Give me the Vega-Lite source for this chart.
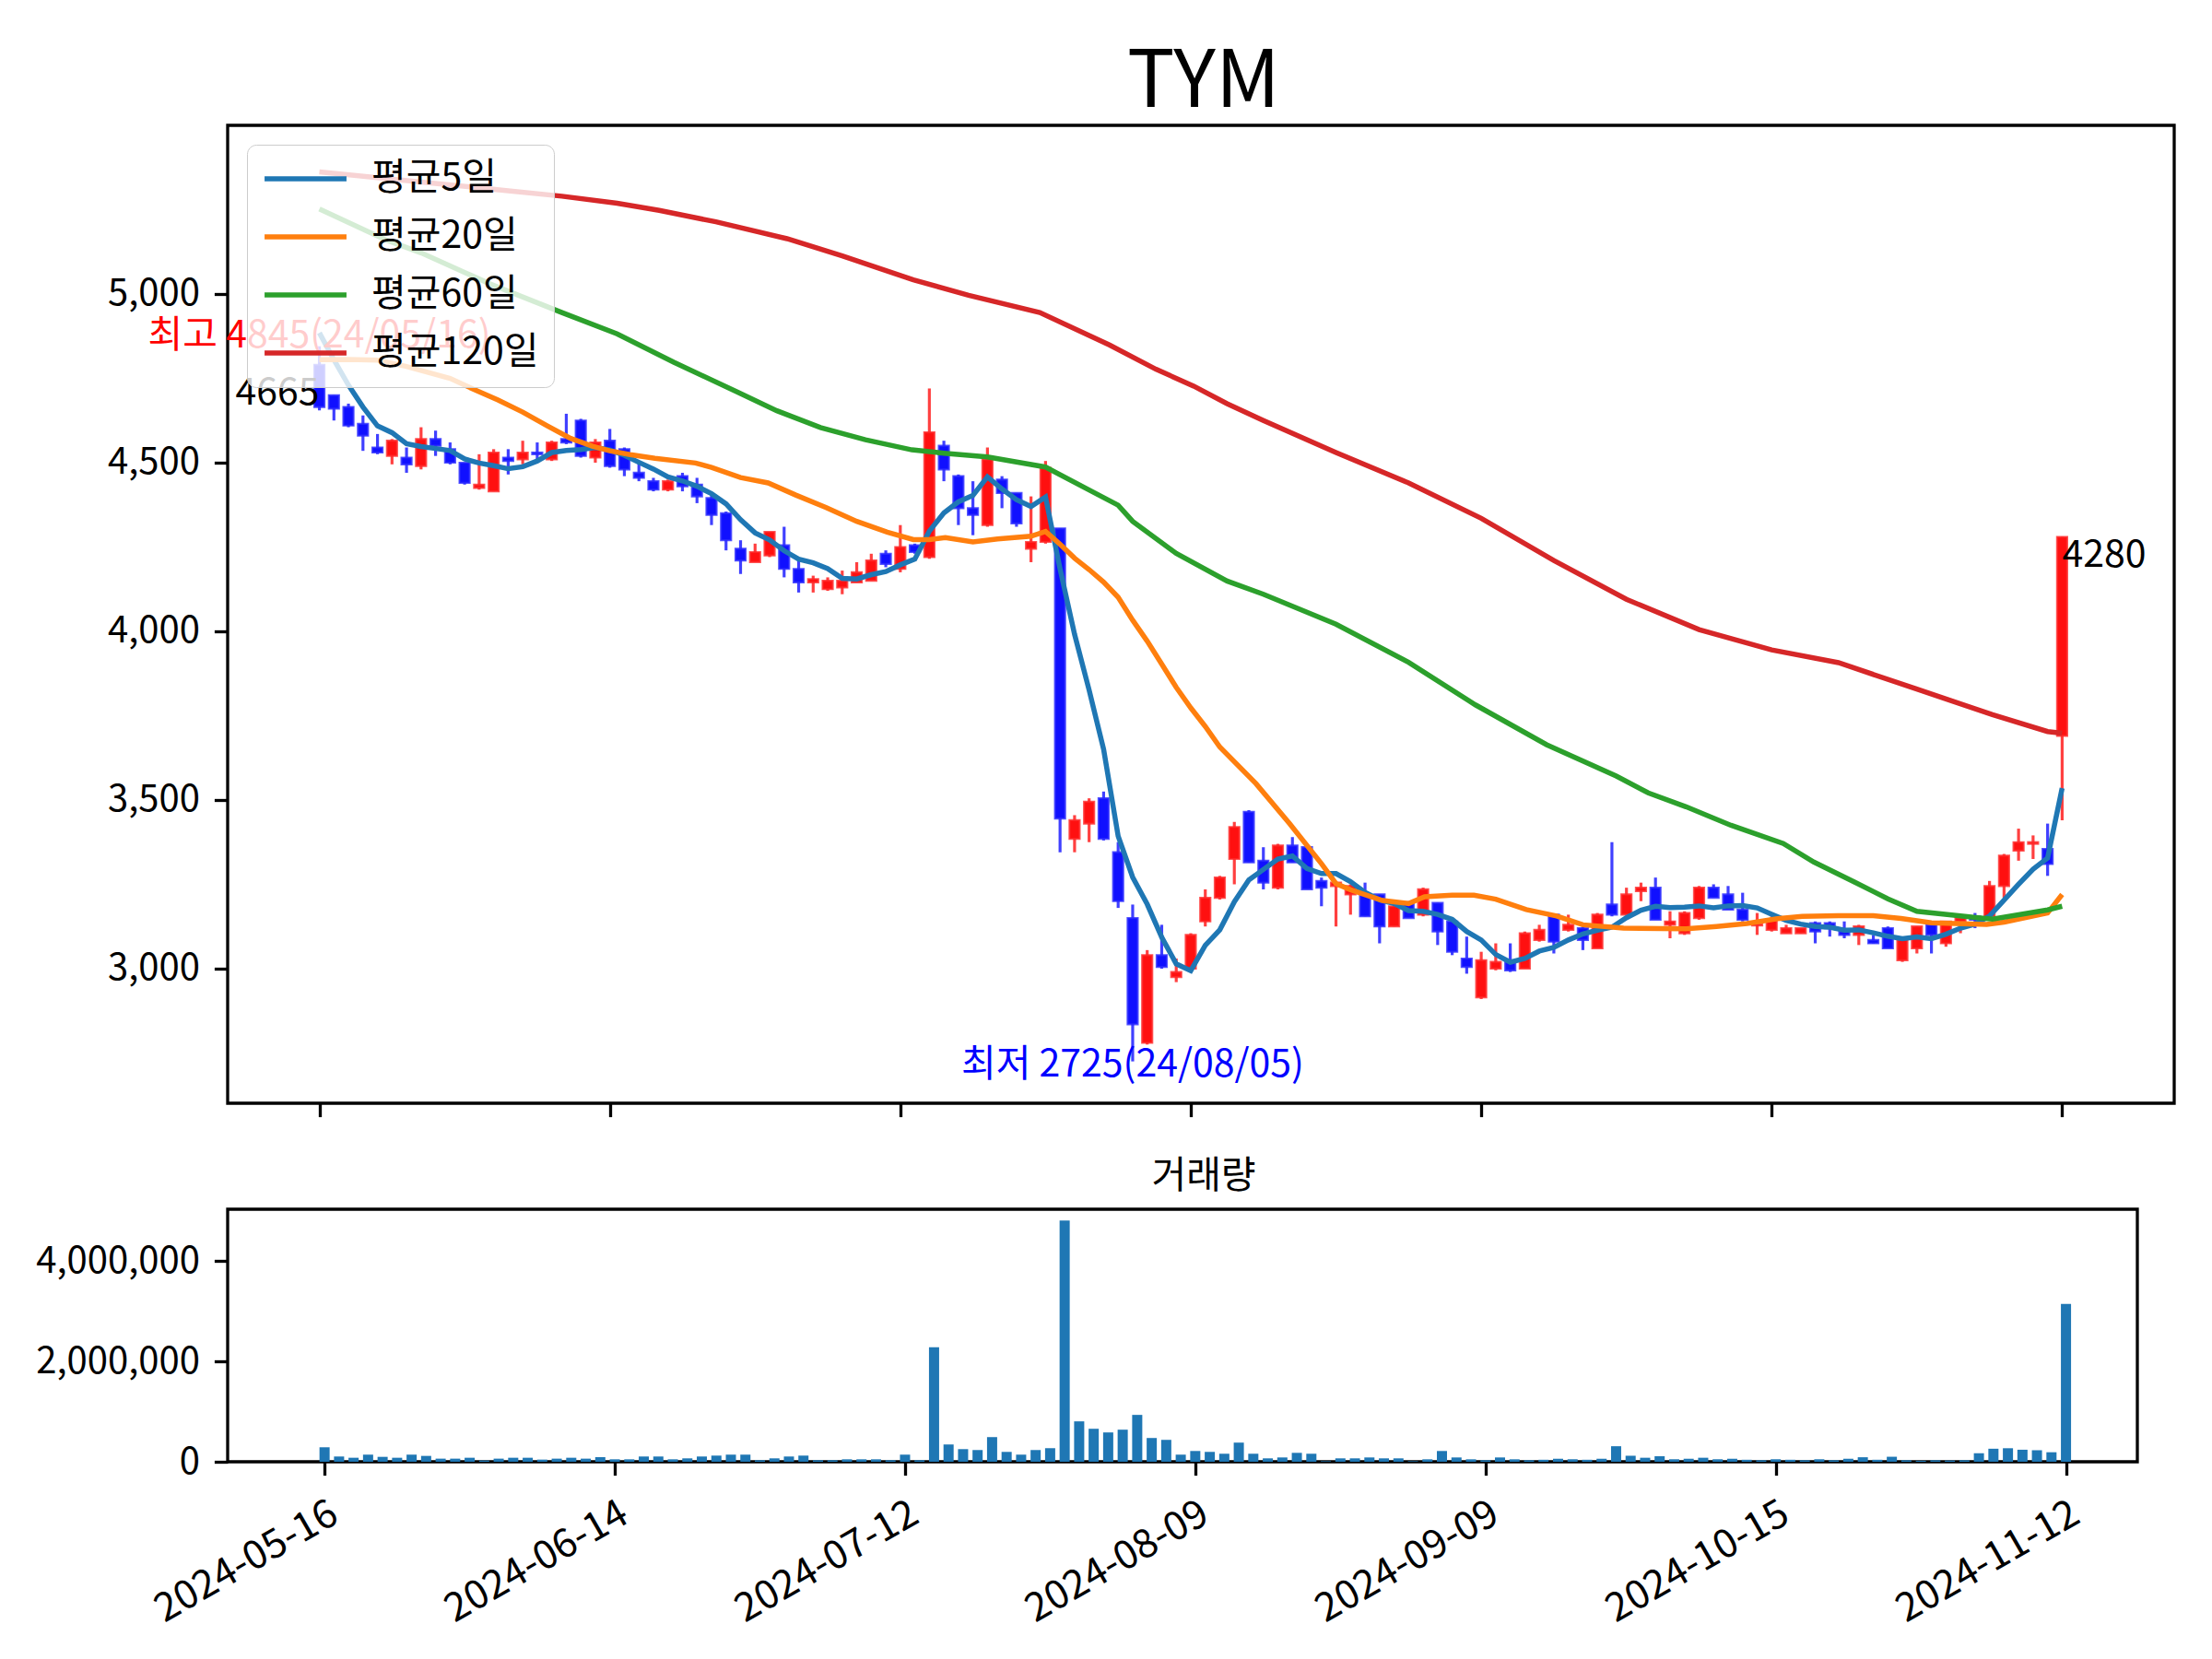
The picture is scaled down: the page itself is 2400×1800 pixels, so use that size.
{
  "$schema": "https://vega.github.io/schema/vega-lite/v6.json",
  "background": "white",
  "padding": {"left": 37, "top": 47, "right": 20, "bottom": 20},
  "title": {"text": "TYM", "fontSize": 86, "fontWeight": "normal", "anchor": "middle", "dx": 107, "offset": 0, "color": "black", "font": "Noto Sans CJK KR"},
  "config": {
    "font": "Noto Sans CJK KR",
    "view": {"stroke": "black", "strokeWidth": 3.3},
    "axis": {"domain": false, "grid": false, "tickColor": "black", "tickWidth": 3.3, "tickSize": 14.6, "labelFontSize": 40, "labelColor": "black", "labelPadding": 16, "labelLimit": 500, "labelFont": "Noto Sans CJK KR"}
  },
  "datasets": {
    "candles": [
      {"i":0,"o":4790,"h":4845,"l":4655,"c":4665,"vol":289000},
      {"i":1,"o":4700,"h":4700,"l":4625,"c":4660,"vol":105000},
      {"i":2,"o":4665,"h":4675,"l":4605,"c":4610,"vol":80000},
      {"i":3,"o":4615,"h":4640,"l":4535,"c":4580,"vol":142000},
      {"i":4,"o":4545,"h":4585,"l":4525,"c":4530,"vol":98000},
      {"i":5,"o":4520,"h":4570,"l":4495,"c":4565,"vol":80000},
      {"i":6,"o":4515,"h":4545,"l":4470,"c":4495,"vol":142000},
      {"i":7,"o":4490,"h":4605,"l":4480,"c":4570,"vol":117000},
      {"i":8,"o":4570,"h":4595,"l":4520,"c":4550,"vol":62000},
      {"i":9,"o":4540,"h":4560,"l":4495,"c":4500,"vol":62000},
      {"i":10,"o":4500,"h":4500,"l":4435,"c":4440,"vol":80000},
      {"i":11,"o":4425,"h":4525,"l":4420,"c":4435,"vol":25000},
      {"i":12,"o":4415,"h":4540,"l":4415,"c":4530,"vol":62000},
      {"i":13,"o":4515,"h":4540,"l":4465,"c":4505,"vol":80000},
      {"i":14,"o":4510,"h":4565,"l":4495,"c":4530,"vol":80000},
      {"i":15,"o":4530,"h":4560,"l":4510,"c":4525,"vol":43000},
      {"i":16,"o":4510,"h":4565,"l":4505,"c":4560,"vol":62000},
      {"i":17,"o":4570,"h":4645,"l":4555,"c":4560,"vol":80000},
      {"i":18,"o":4625,"h":4630,"l":4515,"c":4520,"vol":62000},
      {"i":19,"o":4515,"h":4570,"l":4500,"c":4560,"vol":92000},
      {"i":20,"o":4565,"h":4600,"l":4485,"c":4490,"vol":49000},
      {"i":21,"o":4540,"h":4545,"l":4460,"c":4480,"vol":49000},
      {"i":22,"o":4470,"h":4505,"l":4445,"c":4455,"vol":105000},
      {"i":23,"o":4445,"h":4455,"l":4415,"c":4420,"vol":105000},
      {"i":24,"o":4420,"h":4450,"l":4415,"c":4445,"vol":49000},
      {"i":25,"o":4460,"h":4470,"l":4415,"c":4430,"vol":68000},
      {"i":26,"o":4435,"h":4455,"l":4380,"c":4400,"vol":105000},
      {"i":27,"o":4395,"h":4405,"l":4315,"c":4345,"vol":123000},
      {"i":28,"o":4350,"h":4355,"l":4240,"c":4270,"vol":142000},
      {"i":29,"o":4245,"h":4270,"l":4170,"c":4210,"vol":142000},
      {"i":30,"o":4205,"h":4260,"l":4205,"c":4235,"vol":31000},
      {"i":31,"o":4225,"h":4295,"l":4220,"c":4295,"vol":68000},
      {"i":32,"o":4255,"h":4310,"l":4160,"c":4185,"vol":105000},
      {"i":33,"o":4185,"h":4210,"l":4115,"c":4145,"vol":123000},
      {"i":34,"o":4145,"h":4165,"l":4115,"c":4155,"vol":31000},
      {"i":35,"o":4125,"h":4160,"l":4120,"c":4150,"vol":31000},
      {"i":36,"o":4130,"h":4180,"l":4110,"c":4150,"vol":49000},
      {"i":37,"o":4145,"h":4205,"l":4145,"c":4175,"vol":49000},
      {"i":38,"o":4150,"h":4230,"l":4150,"c":4210,"vol":49000},
      {"i":39,"o":4230,"h":4240,"l":4190,"c":4200,"vol":31000},
      {"i":40,"o":4185,"h":4315,"l":4175,"c":4250,"vol":142000},
      {"i":41,"o":4255,"h":4260,"l":4230,"c":4235,"vol":31000},
      {"i":42,"o":4220,"h":4720,"l":4215,"c":4590,"vol":2283000},
      {"i":43,"o":4550,"h":4565,"l":4445,"c":4480,"vol":345000},
      {"i":44,"o":4460,"h":4465,"l":4315,"c":4365,"vol":252000},
      {"i":45,"o":4365,"h":4445,"l":4285,"c":4345,"vol":234000},
      {"i":46,"o":4315,"h":4545,"l":4310,"c":4510,"vol":492000},
      {"i":47,"o":4450,"h":4460,"l":4365,"c":4410,"vol":197000},
      {"i":48,"o":4410,"h":4410,"l":4310,"c":4320,"vol":142000},
      {"i":49,"o":4245,"h":4400,"l":4205,"c":4265,"vol":234000},
      {"i":50,"o":4265,"h":4505,"l":4260,"c":4485,"vol":271000},
      {"i":51,"o":4305,"h":4305,"l":3345,"c":3445,"vol":4810000},
      {"i":52,"o":3385,"h":3455,"l":3345,"c":3440,"vol":806000},
      {"i":53,"o":3430,"h":3505,"l":3375,"c":3495,"vol":658000},
      {"i":54,"o":3505,"h":3525,"l":3380,"c":3385,"vol":585000},
      {"i":55,"o":3345,"h":3375,"l":3180,"c":3200,"vol":640000},
      {"i":56,"o":3150,"h":3190,"l":2725,"c":2835,"vol":935000},
      {"i":57,"o":2780,"h":3055,"l":2775,"c":3040,"vol":474000},
      {"i":58,"o":3040,"h":3130,"l":3000,"c":3005,"vol":437000},
      {"i":59,"o":2975,"h":3030,"l":2960,"c":2990,"vol":142000},
      {"i":60,"o":3000,"h":3105,"l":2995,"c":3100,"vol":215000},
      {"i":61,"o":3140,"h":3235,"l":3125,"c":3210,"vol":197000},
      {"i":62,"o":3210,"h":3275,"l":3205,"c":3270,"vol":160000},
      {"i":63,"o":3325,"h":3435,"l":3250,"c":3420,"vol":382000},
      {"i":64,"o":3465,"h":3470,"l":3315,"c":3315,"vol":160000},
      {"i":65,"o":3320,"h":3360,"l":3235,"c":3255,"vol":68000},
      {"i":66,"o":3240,"h":3370,"l":3235,"c":3365,"vol":86000},
      {"i":67,"o":3365,"h":3390,"l":3315,"c":3315,"vol":178000},
      {"i":68,"o":3360,"h":3365,"l":3235,"c":3235,"vol":160000},
      {"i":69,"o":3260,"h":3270,"l":3185,"c":3240,"vol":12000},
      {"i":70,"o":3245,"h":3255,"l":3125,"c":3255,"vol":68000},
      {"i":71,"o":3220,"h":3250,"l":3160,"c":3245,"vol":68000},
      {"i":72,"o":3220,"h":3255,"l":3155,"c":3155,"vol":86000},
      {"i":73,"o":3220,"h":3220,"l":3075,"c":3125,"vol":68000},
      {"i":74,"o":3125,"h":3190,"l":3125,"c":3185,"vol":68000},
      {"i":75,"o":3195,"h":3200,"l":3150,"c":3150,"vol":12000},
      {"i":76,"o":3160,"h":3240,"l":3155,"c":3235,"vol":49000},
      {"i":77,"o":3195,"h":3195,"l":3070,"c":3110,"vol":215000},
      {"i":78,"o":3140,"h":3140,"l":3040,"c":3050,"vol":86000},
      {"i":79,"o":3030,"h":3095,"l":2985,"c":3005,"vol":49000},
      {"i":80,"o":2915,"h":3050,"l":2910,"c":3025,"vol":31000},
      {"i":81,"o":3000,"h":3075,"l":2995,"c":3020,"vol":86000},
      {"i":82,"o":3020,"h":3075,"l":2990,"c":2995,"vol":49000},
      {"i":83,"o":3000,"h":3110,"l":3000,"c":3105,"vol":31000},
      {"i":84,"o":3085,"h":3130,"l":3080,"c":3115,"vol":40000},
      {"i":85,"o":3160,"h":3160,"l":3045,"c":3080,"vol":60000},
      {"i":86,"o":3115,"h":3160,"l":3110,"c":3130,"vol":50000},
      {"i":87,"o":3120,"h":3125,"l":3055,"c":3085,"vol":40000},
      {"i":88,"o":3060,"h":3165,"l":3060,"c":3160,"vol":60000},
      {"i":89,"o":3190,"h":3375,"l":3155,"c":3160,"vol":310000},
      {"i":90,"o":3160,"h":3240,"l":3160,"c":3220,"vol":120000},
      {"i":91,"o":3230,"h":3255,"l":3200,"c":3240,"vol":80000},
      {"i":92,"o":3240,"h":3270,"l":3145,"c":3145,"vol":110000},
      {"i":93,"o":3130,"h":3170,"l":3090,"c":3140,"vol":50000},
      {"i":94,"o":3105,"h":3170,"l":3100,"c":3165,"vol":60000},
      {"i":95,"o":3150,"h":3245,"l":3145,"c":3240,"vol":80000},
      {"i":96,"o":3240,"h":3250,"l":3210,"c":3210,"vol":50000},
      {"i":97,"o":3220,"h":3245,"l":3175,"c":3175,"vol":60000},
      {"i":98,"o":3175,"h":3225,"l":3140,"c":3145,"vol":40000},
      {"i":99,"o":3128,"h":3165,"l":3100,"c":3132,"vol":30000},
      {"i":100,"o":3115,"h":3155,"l":3110,"c":3145,"vol":50000},
      {"i":101,"o":3105,"h":3130,"l":3105,"c":3120,"vol":40000},
      {"i":102,"o":3105,"h":3120,"l":3105,"c":3120,"vol":30000},
      {"i":103,"o":3135,"h":3140,"l":3075,"c":3110,"vol":50000},
      {"i":104,"o":3135,"h":3140,"l":3095,"c":3120,"vol":30000},
      {"i":105,"o":3110,"h":3140,"l":3090,"c":3100,"vol":60000},
      {"i":106,"o":3100,"h":3130,"l":3070,"c":3125,"vol":90000},
      {"i":107,"o":3085,"h":3100,"l":3075,"c":3075,"vol":40000},
      {"i":108,"o":3120,"h":3125,"l":3060,"c":3060,"vol":100000},
      {"i":109,"o":3025,"h":3085,"l":3020,"c":3085,"vol":30000},
      {"i":110,"o":3060,"h":3125,"l":3045,"c":3125,"vol":20000},
      {"i":111,"o":3130,"h":3140,"l":3045,"c":3100,"vol":30000},
      {"i":112,"o":3075,"h":3140,"l":3065,"c":3140,"vol":25000},
      {"i":113,"o":3140,"h":3150,"l":3105,"c":3150,"vol":30000},
      {"i":114,"o":3155,"h":3165,"l":3120,"c":3145,"vol":170000},
      {"i":115,"o":3155,"h":3260,"l":3150,"c":3245,"vol":260000},
      {"i":116,"o":3245,"h":3340,"l":3210,"c":3335,"vol":270000},
      {"i":117,"o":3350,"h":3415,"l":3320,"c":3375,"vol":240000},
      {"i":118,"o":3370,"h":3395,"l":3325,"c":3375,"vol":230000},
      {"i":119,"o":3355,"h":3430,"l":3275,"c":3310,"vol":190000},
      {"i":120,"o":3690,"h":4280,"l":3440,"c":4280,"vol":3150000}
    ],
    "ma": [
      {"s":"평균5일","i":0,"v":4885},{"s":"평균5일","i":1,"v":4805},{"s":"평균5일","i":2,"v":4730},{"s":"평균5일","i":3,"v":4665},{"s":"평균5일","i":4,"v":4609},
      {"s":"평균5일","i":5,"v":4589},{"s":"평균5일","i":6,"v":4556},{"s":"평균5일","i":7,"v":4548},{"s":"평균5일","i":8,"v":4542},{"s":"평균5일","i":9,"v":4536},
      {"s":"평균5일","i":10,"v":4511},{"s":"평균5일","i":11,"v":4499},{"s":"평균5일","i":12,"v":4491},{"s":"평균5일","i":13,"v":4482},{"s":"평균5일","i":14,"v":4488},
      {"s":"평균5일","i":15,"v":4505},{"s":"평균5일","i":16,"v":4530},{"s":"평균5일","i":17,"v":4536},{"s":"평균5일","i":18,"v":4539},{"s":"평균5일","i":19,"v":4545},
      {"s":"평균5일","i":20,"v":4538},{"s":"평균5일","i":21,"v":4522},{"s":"평균5일","i":22,"v":4501},{"s":"평균5일","i":23,"v":4481},{"s":"평균5일","i":24,"v":4458},
      {"s":"평균5일","i":25,"v":4446},{"s":"평균5일","i":26,"v":4430},{"s":"평균5일","i":27,"v":4408},{"s":"평균5일","i":28,"v":4378},{"s":"평균5일","i":29,"v":4331},
      {"s":"평균5일","i":30,"v":4292},{"s":"평균5일","i":31,"v":4271},{"s":"평균5일","i":32,"v":4239},{"s":"평균5일","i":33,"v":4214},{"s":"평균5일","i":34,"v":4203},
      {"s":"평균5일","i":35,"v":4186},{"s":"평균5일","i":36,"v":4157},{"s":"평균5일","i":37,"v":4155},{"s":"평균5일","i":38,"v":4168},{"s":"평균5일","i":39,"v":4177},
      {"s":"평균5일","i":40,"v":4197},{"s":"평균5일","i":41,"v":4214},{"s":"평균5일","i":42,"v":4297},{"s":"평균5일","i":43,"v":4351},{"s":"평균5일","i":44,"v":4384},
      {"s":"평균5일","i":45,"v":4403},{"s":"평균5일","i":46,"v":4458},{"s":"평균5일","i":47,"v":4422},{"s":"평균5일","i":48,"v":4390},{"s":"평균5일","i":49,"v":4370},
      {"s":"평균5일","i":50,"v":4398},{"s":"평균5일","i":51,"v":4185},{"s":"평균5일","i":52,"v":3991},{"s":"평균5일","i":53,"v":3826},{"s":"평균5일","i":54,"v":3650},
      {"s":"평균5일","i":55,"v":3393},{"s":"평균5일","i":56,"v":3271},{"s":"평균5일","i":57,"v":3191},{"s":"평균5일","i":58,"v":3093},{"s":"평균5일","i":59,"v":3014},
      {"s":"평균5일","i":60,"v":2994},{"s":"평균5일","i":61,"v":3069},{"s":"평균5일","i":62,"v":3115},{"s":"평균5일","i":63,"v":3198},{"s":"평균5일","i":64,"v":3263},
      {"s":"평균5일","i":65,"v":3294},{"s":"평균5일","i":66,"v":3325},{"s":"평균5일","i":67,"v":3334},{"s":"평균5일","i":68,"v":3297},{"s":"평균5일","i":69,"v":3282},
      {"s":"평균5일","i":70,"v":3282},{"s":"평균5일","i":71,"v":3258},{"s":"평균5일","i":72,"v":3226},{"s":"평균5일","i":73,"v":3204},{"s":"평균5일","i":74,"v":3193},
      {"s":"평균5일","i":75,"v":3172},{"s":"평균5일","i":76,"v":3170},{"s":"평균5일","i":77,"v":3161},{"s":"평균5일","i":78,"v":3146},{"s":"평균5일","i":79,"v":3110},
      {"s":"평균5일","i":80,"v":3085},{"s":"평균5일","i":81,"v":3042},{"s":"평균5일","i":82,"v":3019},{"s":"평균5일","i":83,"v":3030},{"s":"평균5일","i":84,"v":3052},
      {"s":"평균5일","i":85,"v":3063},{"s":"평균5일","i":86,"v":3085},{"s":"평균5일","i":87,"v":3103},{"s":"평균5일","i":88,"v":3114},{"s":"평균5일","i":89,"v":3123},
      {"s":"평균5일","i":90,"v":3151},{"s":"평균5일","i":91,"v":3173},{"s":"평균5일","i":92,"v":3185},{"s":"평균5일","i":93,"v":3181},{"s":"평균5일","i":94,"v":3182},
      {"s":"평균5일","i":95,"v":3186},{"s":"평균5일","i":96,"v":3180},{"s":"평균5일","i":97,"v":3186},{"s":"평균5일","i":98,"v":3187},{"s":"평균5일","i":99,"v":3180},
      {"s":"평균5일","i":100,"v":3161},{"s":"평균5일","i":101,"v":3143},{"s":"평균5일","i":102,"v":3132},{"s":"평균5일","i":103,"v":3125},{"s":"평균5일","i":104,"v":3123},
      {"s":"평균5일","i":105,"v":3114},{"s":"평균5일","i":106,"v":3115},{"s":"평균5일","i":107,"v":3106},{"s":"평균5일","i":108,"v":3096},{"s":"평균5일","i":109,"v":3089},
      {"s":"평균5일","i":110,"v":3094},{"s":"평균5일","i":111,"v":3089},{"s":"평균5일","i":112,"v":3102},{"s":"평균5일","i":113,"v":3120},{"s":"평균5일","i":114,"v":3132},
      {"s":"평균5일","i":115,"v":3156},{"s":"평균5일","i":116,"v":3203},{"s":"평균5일","i":117,"v":3250},{"s":"평균5일","i":118,"v":3295},{"s":"평균5일","i":119,"v":3328},
      {"s":"평균5일","i":120,"v":3535},
      {"s":"평균20일","i":0,"v":4805},{"s":"평균20일","i":2,"v":4806},{"s":"평균20일","i":4,"v":4804},{"s":"평균20일","i":6,"v":4785},{"s":"평균20일","i":9,"v":4750},
      {"s":"평균20일","i":10.6,"v":4718},{"s":"평균20일","i":12.3,"v":4686},{"s":"평균20일","i":14,"v":4650},{"s":"평균20일","i":15.7,"v":4609},{"s":"평균20일","i":17.3,"v":4572},
      {"s":"평균20일","i":18.8,"v":4549},{"s":"평균20일","i":20,"v":4535},{"s":"평균20일","i":21.4,"v":4524},{"s":"평균20일","i":23.1,"v":4513},{"s":"평균20일","i":25.9,"v":4499},
      {"s":"평균20일","i":27,"v":4486},{"s":"평균20일","i":29,"v":4456},{"s":"평균20일","i":30.9,"v":4440},{"s":"평균20일","i":32.8,"v":4404},{"s":"평균20일","i":34.9,"v":4367},
      {"s":"평균20일","i":37,"v":4326},{"s":"평균20일","i":39.1,"v":4294},{"s":"평균20일","i":40.9,"v":4272},{"s":"평균20일","i":42,"v":4272},{"s":"평균20일","i":43.1,"v":4278},
      {"s":"평균20일","i":45,"v":4265},{"s":"평균20일","i":46.7,"v":4274},{"s":"평균20일","i":49,"v":4282},{"s":"평균20일","i":50,"v":4296},{"s":"평균20일","i":51,"v":4258},
      {"s":"평균20일","i":52,"v":4217},{"s":"평균20일","i":53,"v":4183},{"s":"평균20일","i":54,"v":4146},{"s":"평균20일","i":55,"v":4101},{"s":"평균20일","i":56,"v":4033},
      {"s":"평균20일","i":57,"v":3971},{"s":"평균20일","i":58,"v":3903},{"s":"평균20일","i":59,"v":3834},{"s":"평균20일","i":60,"v":3773},{"s":"평균20일","i":61,"v":3718},
      {"s":"평균20일","i":62,"v":3657},{"s":"평균20일","i":64.5,"v":3548},{"s":"평균20일","i":66.8,"v":3430},{"s":"평균20일","i":69,"v":3311},{"s":"평균20일","i":70,"v":3252},
      {"s":"평균20일","i":71,"v":3234},{"s":"평균20일","i":73.2,"v":3202},{"s":"평균20일","i":75,"v":3193},{"s":"평균20일","i":76.1,"v":3213},{"s":"평균20일","i":78,"v":3218},
      {"s":"평균20일","i":79.5,"v":3218},{"s":"평균20일","i":81,"v":3206},{"s":"평균20일","i":83.1,"v":3175},{"s":"평균20일","i":85.2,"v":3156},{"s":"평균20일","i":87,"v":3130},
      {"s":"평균20일","i":89.8,"v":3120},{"s":"평균20일","i":94.1,"v":3118},{"s":"평균20일","i":96.2,"v":3125},{"s":"평균20일","i":98.3,"v":3134},{"s":"평균20일","i":100.4,"v":3148},
      {"s":"평균20일","i":102.1,"v":3155},{"s":"평균20일","i":104.6,"v":3157},{"s":"평균20일","i":107,"v":3157},{"s":"평균20일","i":108.9,"v":3149},{"s":"평균20일","i":111,"v":3136},
      {"s":"평균20일","i":114.8,"v":3131},{"s":"평균20일","i":116,"v":3138},{"s":"평균20일","i":119,"v":3165},{"s":"평균20일","i":120,"v":3220},
      {"s":"평균60일","i":0,"v":5252},{"s":"평균60일","i":4.6,"v":5160},{"s":"평균60일","i":7,"v":5122},{"s":"평균60일","i":11.8,"v":5029},{"s":"평균60일","i":16.7,"v":4945},
      {"s":"평균60일","i":20.5,"v":4882},{"s":"평균60일","i":24.4,"v":4798},{"s":"평균60일","i":28.8,"v":4709},{"s":"평균60일","i":31.5,"v":4654},{"s":"평균60일","i":34.5,"v":4604},
      {"s":"평균60일","i":37.6,"v":4568},{"s":"평균60일","i":40.8,"v":4538},{"s":"평균60일","i":43,"v":4528},{"s":"평균60일","i":46,"v":4517},{"s":"평균60일","i":50,"v":4487},
      {"s":"평균60일","i":53,"v":4419},{"s":"평균60일","i":55,"v":4374},{"s":"평균60일","i":56,"v":4326},{"s":"평균60일","i":59,"v":4231},{"s":"평균60일","i":62.5,"v":4149},
      {"s":"평균60일","i":65,"v":4110},{"s":"평균60일","i":70,"v":4021},{"s":"평균60일","i":75,"v":3908},{"s":"평균60일","i":79.6,"v":3782},{"s":"평균60일","i":84.5,"v":3664},
      {"s":"평균60일","i":89.3,"v":3571},{"s":"평균60일","i":91.5,"v":3521},{"s":"평균60일","i":94.1,"v":3480},{"s":"평균60일","i":97.2,"v":3425},{"s":"평균60일","i":100.8,"v":3371},
      {"s":"평균60일","i":102.9,"v":3316},{"s":"평균60일","i":105.7,"v":3257},{"s":"평균60일","i":108,"v":3207},{"s":"평균60일","i":110,"v":3170},{"s":"평균60일","i":113.9,"v":3152},
      {"s":"평균60일","i":115.2,"v":3147},{"s":"평균60일","i":119,"v":3174},{"s":"평균60일","i":120,"v":3185},
      {"s":"평균120일","i":0,"v":5362},{"s":"평균120일","i":7,"v":5332},{"s":"평균120일","i":16.7,"v":5290},{"s":"평균120일","i":20.5,"v":5269},{"s":"평균120일","i":23.4,"v":5248},
      {"s":"평균120일","i":27.3,"v":5214},{"s":"평균120일","i":32.2,"v":5164},{"s":"평균120일","i":36,"v":5113},{"s":"평균120일","i":40.9,"v":5042},{"s":"평균120일","i":44.7,"v":4996},
      {"s":"평균120일","i":49.6,"v":4945},{"s":"평균120일","i":54.4,"v":4849},{"s":"평균120일","i":57.6,"v":4777},{"s":"평균120일","i":60.2,"v":4727},{"s":"평균120일","i":62.5,"v":4675},
      {"s":"평균120일","i":65,"v":4625},{"s":"평균120일","i":70,"v":4530},{"s":"평균120일","i":75,"v":4440},{"s":"평균120일","i":80,"v":4335},{"s":"평균120일","i":85,"v":4210},
      {"s":"평균120일","i":90,"v":4095},{"s":"평균120일","i":95,"v":4005},{"s":"평균120일","i":100,"v":3945},{"s":"평균120일","i":104.6,"v":3907},{"s":"평균120일","i":109.9,"v":3830},
      {"s":"평균120일","i":115.2,"v":3753},{"s":"평균120일","i":119,"v":3703},{"s":"평균120일","i":120,"v":3698}
    ]
  },
  "spacing": 115,
  "bounds": "flush",
  "vconcat": [
    {
      "width": 2112,
      "height": 1061,
      "layer": [
        {
          "data": {"name": "candles"},
          "mark": {"type": "rule", "strokeWidth": 3.2, "opacity": 0.75},
          "encoding": {
            "x": {"field": "i", "type": "quantitative", "title": null, "scale": {"domain": [-6.0, 127.4], "nice": false, "zero": false}, "axis": {"values": [0, 20, 40, 60, 80, 100, 120], "labels": false}},
            "y": {"field": "l", "type": "quantitative", "title": null, "scale": {"domain": [2601, 5500], "nice": false, "zero": false}, "axis": {"values": [3000, 3500, 4000, 4500, 5000], "format": ",.0f"}},
            "y2": {"field": "h"},
            "color": {"condition": {"test": "datum.c >= datum.o", "value": "#ff0000"}, "value": "#0000ff"}
          }
        },
        {
          "data": {"name": "candles"},
          "mark": {"type": "bar", "orient": "vertical", "size": 11, "strokeWidth": 2.2, "strokeOpacity": 0.8},
          "encoding": {
            "x": {"field": "i", "type": "quantitative", "title": null, "scale": {"domain": [-6.0, 127.4], "nice": false, "zero": false}},
            "y": {"field": "o", "type": "quantitative", "title": null, "scale": {"domain": [2601, 5500], "nice": false, "zero": false}},
            "y2": {"field": "c"},
            "fill": {"condition": {"test": "datum.c >= datum.o", "value": "#ff1010"}, "value": "#1010ff"},
            "stroke": {"condition": {"test": "datum.c >= datum.o", "value": "#ff2a2a"}, "value": "#2a2aff"}
          }
        },
        {
          "data": {"name": "ma"},
          "mark": {"type": "line", "strokeWidth": 5.5},
          "encoding": {
            "x": {"field": "i", "type": "quantitative", "title": null, "scale": {"domain": [-6.0, 127.4], "nice": false, "zero": false}},
            "y": {"field": "v", "type": "quantitative", "title": null, "scale": {"domain": [2601, 5500], "nice": false, "zero": false}},
            "color": {
              "field": "s", "type": "nominal",
              "scale": {"domain": ["평균5일", "평균20일", "평균60일", "평균120일"], "range": ["#1f77b4", "#ff7f0e", "#2ca02c", "#d62728"]},
              "legend": {"orient": "top-left", "offset": 21, "title": null, "symbolType": "stroke", "symbolSize": 7900, "symbolStrokeWidth": 5.5, "labelFontSize": 41, "labelColor": "black", "labelFont": "Noto Sans CJK KR", "labelLimit": 500, "fillColor": "rgba(255,255,255,0.8)", "strokeColor": "#cccccc", "cornerRadius": 10, "padding": 16, "clipHeight": 42, "rowPadding": 21, "labelOffset": 24}
            }
          }
        },
        {
          "data": {"values": [{"i": 0, "v": 4845, "t": "최고 4845(24/05/16)"}]},
          "mark": {"type": "text", "align": "center", "baseline": "bottom", "fontSize": 41, "color": "#ff0000", "dy": 10},
          "encoding": {
            "x": {"field": "i", "type": "quantitative", "title": null, "scale": {"domain": [-6.0, 127.4], "nice": false, "zero": false}},
            "y": {"field": "v", "type": "quantitative", "title": null, "scale": {"domain": [2601, 5500], "nice": false, "zero": false}},
            "text": {"field": "t"}
          }
        },
        {
          "data": {"values": [{"i": 56, "v": 2725, "t": "최저 2725(24/08/05)"}]},
          "mark": {"type": "text", "align": "center", "baseline": "middle", "fontSize": 41, "color": "#0000ff", "dy": 4},
          "encoding": {
            "x": {"field": "i", "type": "quantitative", "title": null, "scale": {"domain": [-6.0, 127.4], "nice": false, "zero": false}},
            "y": {"field": "v", "type": "quantitative", "title": null, "scale": {"domain": [2601, 5500], "nice": false, "zero": false}},
            "text": {"field": "t"}
          }
        },
        {
          "data": {"values": [{"i": 0, "v": 4665, "t": "4665"}]},
          "mark": {"type": "text", "align": "right", "baseline": "bottom", "fontSize": 41, "color": "black", "dy": 6},
          "encoding": {
            "x": {"field": "i", "type": "quantitative", "title": null, "scale": {"domain": [-6.0, 127.4], "nice": false, "zero": false}},
            "y": {"field": "v", "type": "quantitative", "title": null, "scale": {"domain": [2601, 5500], "nice": false, "zero": false}},
            "text": {"field": "t"}
          }
        },
        {
          "data": {"values": [{"i": 120, "v": 4280, "t": "4280"}]},
          "mark": {"type": "text", "align": "left", "baseline": "top", "fontSize": 41, "color": "black"},
          "encoding": {
            "x": {"field": "i", "type": "quantitative", "title": null, "scale": {"domain": [-6.0, 127.4], "nice": false, "zero": false}},
            "y": {"field": "v", "type": "quantitative", "title": null, "scale": {"domain": [2601, 5500], "nice": false, "zero": false}},
            "text": {"field": "t"}
          }
        }
      ]
    },
    {
      "width": 2072,
      "height": 274,
      "title": {"text": "거래량", "fontSize": 41, "fontWeight": "normal", "anchor": "middle", "frame": "group", "dx": 23, "offset": 14, "color": "black"},
      "data": {"name": "candles"},
      "mark": {"type": "bar", "size": 11, "color": "#1f77b4"},
      "encoding": {
        "x": {"field": "i", "type": "quantitative", "title": null, "scale": {"domain": [-6.36, 124.6], "nice": false, "zero": false},
              "axis": {"values": [0, 20, 40, 60, 80, 100, 120], "labelAngle": -30, "labelAlign": "right", "labelBaseline": "top", "labelOverlap": false, "labelFlush": false, "labelBound": false, "labelPadding": 20, "labelDx": -12, "labelFontSize": 43,
                       "labelExpr": "datum.value == 0 ? '2024-05-16' : datum.value == 20 ? '2024-06-14' : datum.value == 40 ? '2024-07-12' : datum.value == 60 ? '2024-08-09' : datum.value == 80 ? '2024-09-09' : datum.value == 100 ? '2024-10-15' : '2024-11-12'"}},
        "y": {"field": "vol", "type": "quantitative", "title": null, "scale": {"domain": [0, 5037000], "nice": false}, "axis": {"values": [0, 2000000, 4000000], "format": ",.0f"}}
      }
    }
  ]
}
